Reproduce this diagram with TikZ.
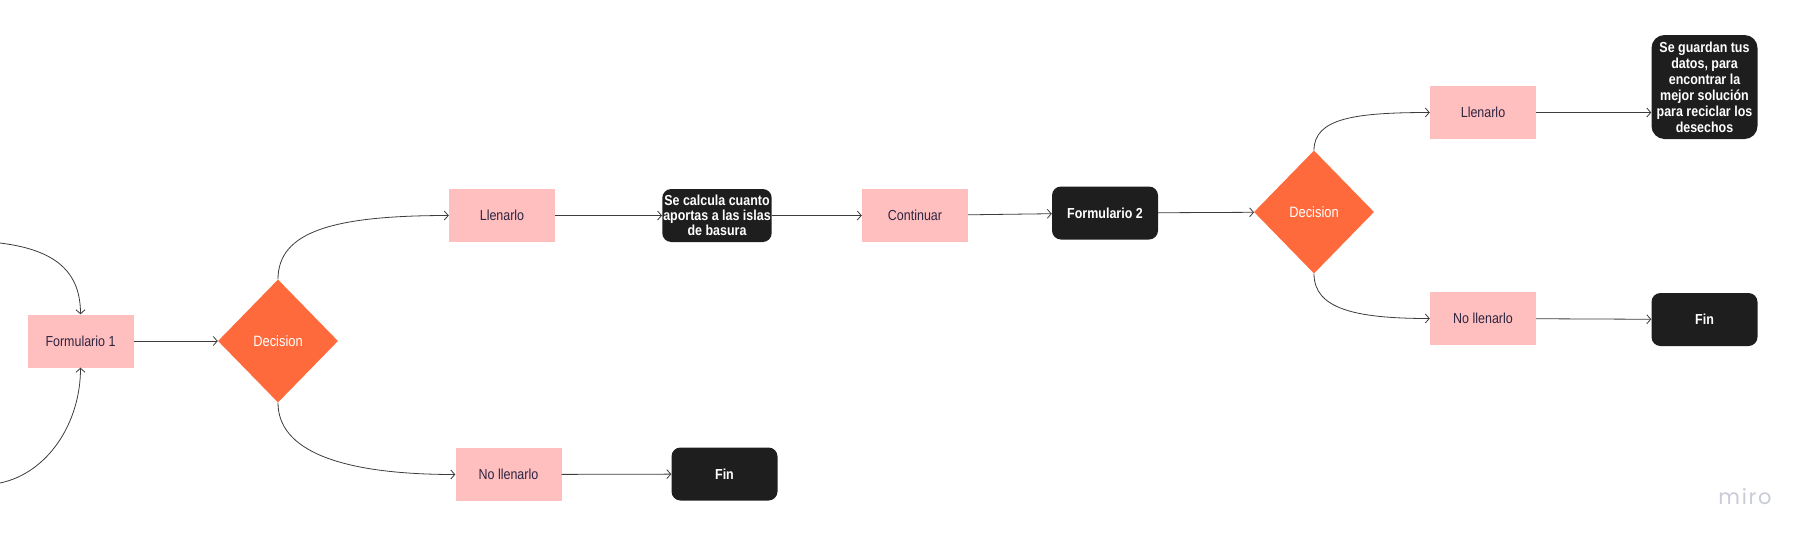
\documentclass[tikz,border=0pt]{standalone}
\usepackage{fontspec}
\setmainfont[FakeStretch=0.86]{Liberation Sans}
\newfontfamily\mirofont[LetterSpace=8]{Poppins}
\usepackage{xcolor}
\usepackage{tikz}
\usetikzlibrary{positioning, arrows.meta, shapes.geometric}
\definecolor{blush}{HTML}{FFBFBF}
\definecolor{plum}{HTML}{2E2440}
\definecolor{tangerine}{HTML}{FF6A3D}
\definecolor{inkblack}{HTML}{1E1E1E}
\definecolor{wiregray}{HTML}{3C3C3C}
\definecolor{logogray}{HTML}{C9CBD6}

\begin{document}
\begin{tikzpicture}[x=1pt, y=1pt,
  stage/.style={fill=blush, text=plum, minimum width=106pt, minimum height=53pt,
                inner sep=0pt, font=\fontsize{14.5}{16}\selectfont},
  outcome/.style={fill=inkblack, text=white, rounded corners=9pt, minimum width=106pt,
                  minimum height=53pt, inner sep=1pt, align=center,
                  font=\bfseries\fontsize{14.5}{15}\selectfont},
  choice/.style={diamond, fill=tangerine, text=white, minimum width=120pt,
                 minimum height=123pt, inner sep=0pt, font=\fontsize{15}{16}\selectfont},
  link/.style={draw=wiregray, line width=0.8pt, -{Straight Barb[length=4pt,width=9pt]}}]
  \useasboundingbox (0,0) rectangle (1816,-550);

  \node[stage] (form1) at (80.5,-341) {Formulario 1};
  \node[choice] (dec1) at (278,-341) {Decision};
  \node[stage] (fill1) at (502,-215.5) {Llenarlo};
  \node[outcome] (calc) at (717,-215.5) {Se calcula cuanto\\aportas a las islas\\de basura};
  \node[stage] (cont) at (915,-215.5) {Continuar};
  \node[outcome] (form2) at (1105,-213) {Formulario 2};
  \node[choice] (dec2) at (1314,-212) {Decision};
  \node[stage] (fill2) at (1483,-112.5) {Llenarlo};
  \node[outcome, rounded corners=13pt, minimum height=104pt, font=\bfseries\fontsize{14.5}{16}\selectfont]
    (save) at (1704.5,-87) {Se guardan tus\\datos, para\\encontrar la\\mejor solución\\para reciclar los\\desechos};
  \node[stage] (skip2) at (1483,-318.5) {No llenarlo};
  \node[outcome] (end2) at (1704.5,-319.5) {Fin};
  \node[stage] (skip1) at (508.5,-474.5) {No llenarlo};
  \node[outcome] (end1) at (724.5,-474) {Fin};
  \node[text=logogray, font=\mirofont\fontsize{21}{21}\selectfont] (logo) at (1745,-497) {miro};

  \coordinate (backtop) at (0,-243);
  \coordinate (backbot) at (0,-483);

  \draw[link] (backtop) .. controls +(48,-6) and +(0,48) .. (form1.north);
  \draw[link] (backbot) .. controls +(48,10) and +(0,-55) .. (form1.south);
  \draw[link] (form1) -- (dec1);
  \draw[link] (dec1.north) .. controls +(0,48) and +(-115,0) .. (fill1.west);
  \draw[link] (dec1.south) .. controls +(0,-48) and +(-115,0) .. (skip1.west);
  \draw[link] (fill1) -- (calc);
  \draw[link] (calc) -- (cont);
  \draw[link] (cont) -- (form2);
  \draw[link] (skip1) -- (end1);
  \draw[link] (form2) -- (dec2);
  \draw[link] (dec2.north) .. controls +(0,32) and +(-75,0) .. (fill2.west);
  \draw[link] (dec2.south) .. controls +(0,-35) and +(-75,0) .. (skip2.west);
  \draw[link] (fill2) -- (fill2 -| save.west);
  \draw[link] (skip2) -- (end2);
\end{tikzpicture}
\end{document}
